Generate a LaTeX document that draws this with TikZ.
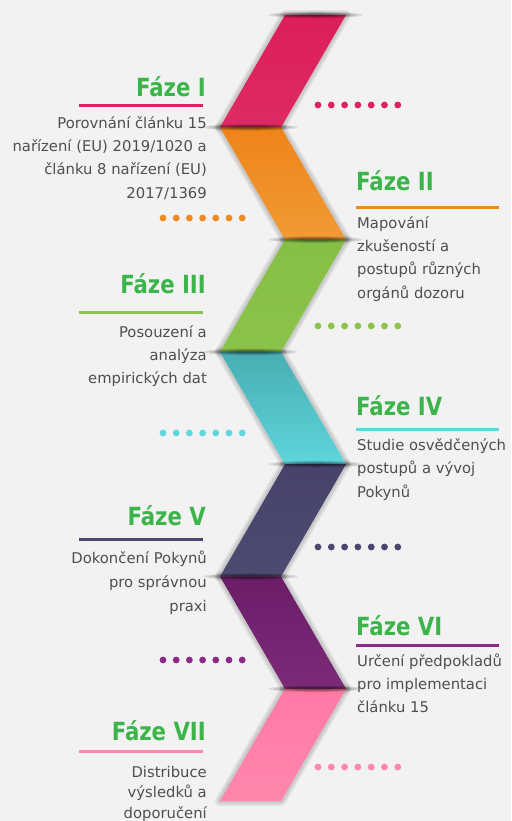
\documentclass[tikz,border=0pt]{standalone}
\usepackage{fontspec}
\setmainfont{DejaVu Sans}
\newfontfamily\titlefont{DejaVu Sans}[FakeStretch=0.85]
\usetikzlibrary{calc}

\definecolor{bg}{HTML}{F2F2F2}
\definecolor{phasegreen}{HTML}{3BB54A}
\definecolor{bodygray}{HTML}{4F4F4F}
% band colours: top, middle, bottom
\definecolor{pinkA}{HTML}{DD1E5B}\definecolor{pinkB}{HTML}{E8709C}\definecolor{pinkC}{HTML}{DE2A63}
\definecolor{orangeA}{HTML}{EF8419}\definecolor{orangeB}{HTML}{F6B36A}\definecolor{orangeC}{HTML}{F19A35}
\definecolor{greenA}{HTML}{86BF45}\definecolor{greenB}{HTML}{A5D274}\definecolor{greenC}{HTML}{8BC34A}
\definecolor{tealA}{HTML}{48AEB3}\definecolor{tealB}{HTML}{8FE4E8}\definecolor{tealC}{HTML}{5DD6DC}
\definecolor{navyA}{HTML}{46426A}\definecolor{navyB}{HTML}{7C7A99}\definecolor{navyC}{HTML}{4E4B72}
\definecolor{purpleA}{HTML}{6B1D68}\definecolor{purpleB}{HTML}{B671B0}\definecolor{purpleC}{HTML}{7C2A77}
\definecolor{rosaA}{HTML}{FF7AA5}\definecolor{rosaB}{HTML}{FFAAC5}\definecolor{rosaC}{HTML}{FF86AC}
% rule and dot colours
\definecolor{cI}{HTML}{E0215F}
\definecolor{cII}{HTML}{F08A1E}
\definecolor{cIII}{HTML}{8CC34A}
\definecolor{cIV}{HTML}{5DD8DD}
\definecolor{cV}{HTML}{4A476E}
\definecolor{cVI}{HTML}{8B2A88}
\definecolor{cVII}{HTML}{FF86AC}

\begin{document}
\begin{tikzpicture}[x=1pt,y=-1pt,
    title/.style={font=\titlefont\bfseries\fontsize{25}{25}\selectfont, text=phasegreen, inner sep=0},
    body/.style={font=\fontsize{14.8}{18}\selectfont, text=bodygray, inner sep=0},
    rule/.style={line width=3pt},
    dot/.style={circle, inner sep=0, minimum size=6.8pt}]
    \useasboundingbox (0,0) rectangle (511,821);
    \fill[bg] (0,0) rectangle (511,821);
    \begin{scope}
    \clip (0,0) rectangle (511,821);

    % soft halo under the bands
    \foreach \yt/\xt/\xb in {15/285/220, 127.3/220/285, 239.6/285/220, 351.9/220/285,
                             464.2/285/220, 576.5/220/285, 688.8/285/220} {
        \foreach \w in {10,7,4}
            \draw[black, opacity=0.06, line width=\w, line join=round]
                (\xt,\yt) -- ++(61,0) -- (\xb+61,\yt+112.3) -- (\xb,\yt+112.3) -- cycle;
    }
    % the zigzag bands
    \foreach \yt/\xt/\xb/\ct/\cm/\cb in {15/285/220/pinkA/pinkB/pinkC,
                                         127.3/220/285/orangeA/orangeB/orangeC,
                                         239.6/285/220/greenA/greenB/greenC,
                                         351.9/220/285/tealA/tealB/tealC,
                                         464.2/285/220/navyA/navyB/navyC,
                                         576.5/220/285/purpleA/purpleB/purpleC,
                                         688.8/285/220/rosaA/rosaB/rosaC}
        \shade[top color=\ct, middle color=\cm, bottom color=\cb]
            (\xt,\yt) -- ++(61,0) -- (\xb+61,\yt+112.3) -- (\xb,\yt+112.3) -- cycle;
    % fold shadows at the joints
    \foreach \y/\x in {15/315.5, 127.3/250.5, 239.6/315.5, 351.9/250.5, 464.2/315.5, 576.5/250.5, 688.8/315.5}
        \foreach \s in {1,...,6}
            \fill[black, opacity=0.1] (\x,\y) ellipse ({14+5.5*\s} and {0.3+0.5*\s});
    \end{scope}

    % Phase I
    \node[title, anchor=base east] (t1) at (206,97) {Fáze I};
    \draw[rule, cI] (79,106) -- (203,106);
    \foreach \l [count=\i] in {{Porovnání článku 15}, {nařízení (EU) 2019/1020 a},
                               {článku 8 nařízení (EU)}, {2017/1369}}
        \node[body, anchor=base east] (b1-\i) at (207,{129+23*(\i-1)}) {\l};
    \foreach \i in {0,...,6}
        \node[dot, fill=cI] (d1-\i) at ({318+13.3*\i},105) {};

    % Phase II
    \node[title, anchor=base west] (t2) at (356,190) {Fáze II};
    \draw[rule, cII] (356,207) -- (499,207);
    \foreach \l [count=\i] in {Mapování, {zkušeností a}, {postupů různých}, {orgánů dozoru}}
        \node[body, anchor=base west] (b2-\i) at (357,{228+23.4*(\i-1)}) {\l};
    \foreach \i in {0,...,6}
        \node[dot, fill=cII] (d2-\i) at ({163+13.2*\i},218) {};

    % Phase III
    \node[title, anchor=base east] (t3) at (206,293) {Fáze III};
    \draw[rule, cIII] (79,312) -- (203,312);
    \foreach \l [count=\i] in {{Posouzení a}, analýza, {empirických dat}}
        \node[body, anchor=base east] (b3-\i) at (207,{337+23*(\i-1)}) {\l};
    \foreach \i in {0,...,6}
        \node[dot, fill=cIII] (d3-\i) at ({318+13.3*\i},326) {};

    % Phase IV
    \node[title, anchor=base west] (t4) at (356,415) {Fáze IV};
    \draw[rule, cIV] (356,429) -- (499,429);
    \foreach \l [count=\i] in {{Studie osvědčených}, {postupů a vývoj}, Pokynů}
        \node[body, anchor=base west] (b4-\i) at (357,{450+23.5*(\i-1)}) {\l};
    \foreach \i in {0,...,6}
        \node[dot, fill=cIV] (d4-\i) at ({163+13.2*\i},433) {};

    % Phase V
    \node[title, anchor=base east] (t5) at (206,525) {Fáze V};
    \draw[rule, cV] (79,539) -- (203,539);
    \foreach \l [count=\i] in {{Dokončení Pokynů}, {pro správnou}, praxi}
        \node[body, anchor=base east] (b5-\i) at (207,{563+24*(\i-1)}) {\l};
    \foreach \i in {0,...,6}
        \node[dot, fill=cV] (d5-\i) at ({318+13.3*\i},547) {};

    % Phase VI
    \node[title, anchor=base west] (t6) at (356,635) {Fáze VI};
    \draw[rule, cVI] (356,645) -- (499,645);
    \foreach \l [count=\i] in {{Určení předpokladů}, {pro implementaci}, {článku 15}}
        \node[body, anchor=base west] (b6-\i) at (357,{666+23*(\i-1)}) {\l};
    \foreach \i in {0,...,6}
        \node[dot, fill=cVI] (d6-\i) at ({163+13.2*\i},660) {};

    % Phase VII
    \node[title, anchor=base east] (t7) at (206,740) {Fáze VII};
    \draw[rule, cVII] (79,751) -- (203,751);
    \foreach \l [count=\i] in {Distribuce, {výsledků a}, doporučení}
        \node[body, anchor=base east] (b7-\i) at (207,{777+20.5*(\i-1)}) {\l};
    \foreach \i in {0,...,6}
        \node[dot, fill=cVII] (d7-\i) at ({318+13.3*\i},767) {};
\end{tikzpicture}
\end{document}
